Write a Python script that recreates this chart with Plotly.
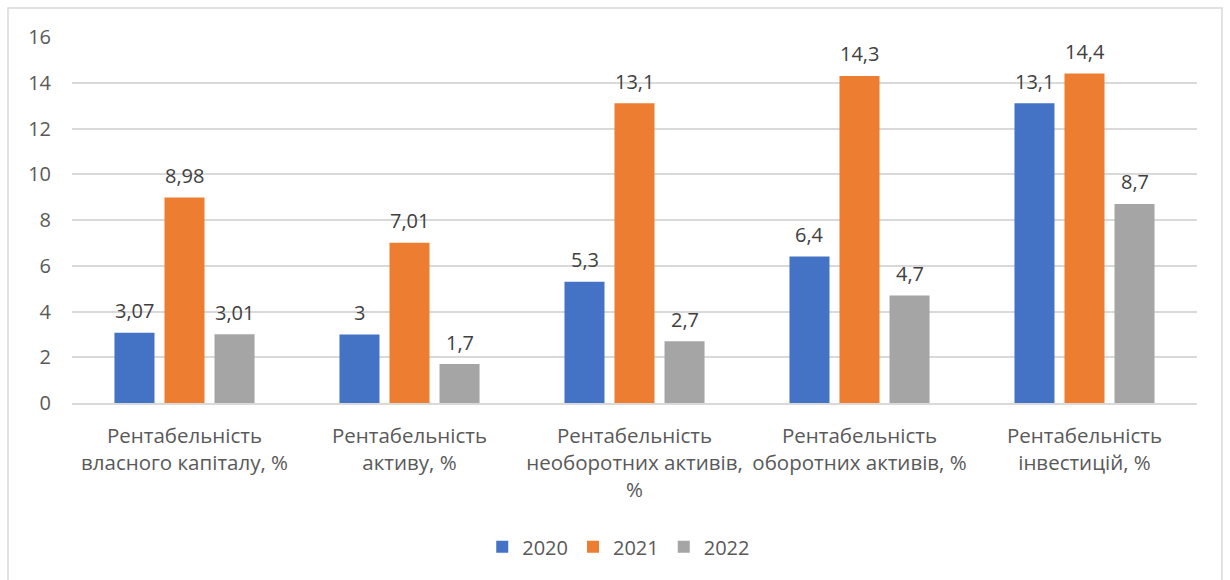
import plotly.graph_objects as go

categories = [
    "Рентабельність<br>власного капіталу, %",
    "Рентабельність<br>активу, %",
    "Рентабельність<br>необоротних активів,<br>%",
    "Рентабельність<br>оборотних активів, %",
    "Рентабельність<br>інвестицій, %",
]
years = ["2020", "2021", "2022"]
values_2020 = [3.07, 3, 5.3, 6.4, 13.1]
values_2021 = [8.98, 7.01, 13.1, 14.3, 14.4]
values_2022 = [3.01, 1.7, 2.7, 4.7, 8.7]
y_ticks = [0, 2, 4, 6, 8, 10, 12, 14, 16]

colors = ["#4472C4", "#ED7D31", "#A5A5A5"]
series = [values_2020, values_2021, values_2022]
FONT = "Open Sans"
TEXT = "#595959"


def fmt(v):
    return str(v).replace(".", ",")


fig = go.Figure()
for name, vals, col in zip(years, series, colors):
    fig.add_trace(go.Bar(x=categories, y=vals, name=name, marker_color=col,
                         marker_line_width=0))

# value labels above each bar
shifts = [-50, 0, 50]
annotations = []
for vals, dx in zip(series, shifts):
    for cat, v in zip(categories, vals):
        annotations.append(dict(x=cat, y=v, xref="x", yref="y", text=fmt(v),
                                showarrow=False, xshift=dx, yshift=22,
                                yanchor="middle",
                                font=dict(family=FONT, size=20, color="#404040")))

fig.update_layout(
    width=1230, height=580,
    margin=dict(l=72, r=33, t=37, b=177),
    paper_bgcolor="white", plot_bgcolor="white",
    barmode="group", bargap=0.333, bargroupgap=0.2,
    font=dict(family=FONT, size=18, color=TEXT),
    annotations=annotations,
    showlegend=True,
    legend=dict(orientation="h", x=0.486, xanchor="center", y=-0.393,
                yanchor="middle", font=dict(family=FONT, size=20, color=TEXT),
                itemwidth=30, traceorder="normal"),
    shapes=[dict(type="rect", xref="paper", yref="paper",
                 x0=(8 - 72) / 1125, x1=(1222 - 72) / 1125,
                 y0=-0.6, y1=(403 - 8) / 366,
                 line=dict(color="#D9D9D9", width=1.5), fillcolor="rgba(0,0,0,0)",
                 layer="below")],
)
fig.update_xaxes(showline=True, linecolor="#D9D9D9", linewidth=1.5,
                 showgrid=False, ticks="", ticklabelstandoff=14,
                 tickfont=dict(family=FONT, size=20.5, color=TEXT))
fig.update_yaxes(range=[0, 16], tickvals=y_ticks, showgrid=True,
                 gridcolor="#D9D9D9", gridwidth=1.5, zeroline=False,
                 showline=False, ticks="", ticklabelstandoff=20,
                 tickfont=dict(family=FONT, size=20, color=TEXT))

fig.write_html("out.html")
